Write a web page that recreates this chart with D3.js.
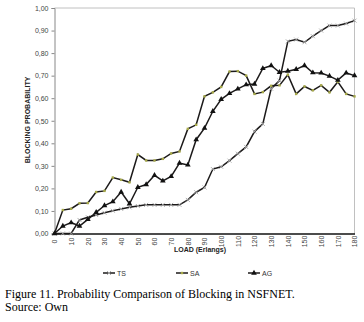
<!DOCTYPE html>
<html>
<head>
<meta charset="utf-8">
<script src="https://cdn.jsdelivr.net/npm/d3@7"></script>
<style>
  html, body { margin: 0; padding: 0; background: #fff; }
  svg { display: block; }
  .ax text { font-family: Arial, "Liberation Sans", sans-serif; font-size: 7px; fill: #444; }
</style>
</head>
<body>
<div id="chart"></div>
<script>
// load values on the category axis
var loads = [0, 5, 10, 15, 20, 25, 30, 35, 40, 45, 50, 55, 60, 65, 70, 75, 80, 85, 90, 95,
  100, 105, 110, 115, 120, 125, 130, 135, 140, 145, 150, 155, 160, 165, 170, 175, 180];
var loadLabels = [0, 10, 20, 30, 40, 50, 60, 70, 80, 90, 100, 110, 120, 130, 140, 150, 160, 170, 180];
var yTicks = [0, 0.1, 0.2, 0.3, 0.4, 0.5, 0.6, 0.7, 0.8, 0.9, 1.0];

var ts = [0, 0, 0, 0.06, 0.072, 0.082, 0.092, 0.101, 0.109, 0.116, 0.122, 0.127, 0.127, 0.127, 0.127,
  0.127, 0.149, 0.183, 0.204, 0.286, 0.296, 0.323, 0.354, 0.384, 0.452, 0.486, 0.642, 0.678, 0.852,
  0.86, 0.848, 0.875, 0.90, 0.922, 0.922, 0.931, 0.944];
var sa = [0, 0.104, 0.11, 0.134, 0.135, 0.184, 0.189, 0.248, 0.238, 0.227, 0.35, 0.324, 0.324, 0.331,
  0.355, 0.364, 0.464, 0.482, 0.608, 0.626, 0.65, 0.718, 0.72, 0.70, 0.619, 0.627, 0.655, 0.657, 0.704,
  0.619, 0.652, 0.635, 0.657, 0.626, 0.673, 0.619, 0.608];
var ag = [0, 0.033, 0.048, 0.033, 0.063, 0.094, 0.124, 0.141, 0.184, 0.132, 0.205, 0.217, 0.258, 0.233,
  0.253, 0.312, 0.304, 0.416, 0.467, 0.542, 0.595, 0.621, 0.641, 0.66, 0.663, 0.732, 0.745, 0.715, 0.72,
  0.728, 0.745, 0.713, 0.712, 0.698, 0.68, 0.712, 0.70];

var W = 364, H = 322;
var pLeft = 54.5, pRight = 354.5, pTop = 8, pBottom = 233.5;

var svg = d3.select('#chart').append('svg').attr('width', W).attr('height', H);

var x = d3.scalePoint().domain(loads).range([pLeft, pRight]).padding(0);
var y = d3.scaleLinear().domain([0, 1]).range([pBottom, pTop]);

// plot border (top + right)
svg.append('path')
  .attr('d', 'M' + pLeft + ',' + pTop + 'H' + pRight + 'V' + pBottom)
  .attr('fill', 'none').attr('stroke', '#c0c0c0').attr('stroke-width', 1);

// y axis
var yAxis = svg.append('g').attr('class', 'ax')
  .attr('transform', 'translate(' + pLeft + ',0)')
  .call(d3.axisLeft(y).tickValues(yTicks).tickSize(3).tickPadding(3)
    .tickFormat(function (d) { return d3.format('.2f')(d).replace('.', ','); }));
yAxis.select('.domain').attr('stroke', '#888');
yAxis.selectAll('line').attr('stroke', '#888');

// x axis
var xAxis = svg.append('g').attr('class', 'ax')
  .attr('transform', 'translate(0,' + pBottom + ')')
  .call(d3.axisBottom(x).tickValues(loadLabels).tickSize(0).tickPadding(0));
xAxis.select('.domain').attr('stroke', '#111').attr('stroke-width', 1.6);
xAxis.selectAll('text')
  .attr('transform', 'translate(0,8) rotate(-90)')
  .attr('dy', '0.35em').attr('y', 0).attr('x', 0)
  .attr('text-anchor', 'middle');

// axis titles
svg.append('text')
  .attr('transform', 'translate(30,120) rotate(-90)')
  .attr('text-anchor', 'middle')
  .style('font-family', 'Arial, "Liberation Sans", sans-serif')
  .style('font-size', '7px').style('font-weight', 'bold').attr('fill', '#222')
  .text('BLOCKING PROBABILITY');

svg.append('text')
  .attr('x', 200).attr('y', 252)
  .attr('text-anchor', 'middle')
  .style('font-family', 'Arial, "Liberation Sans", sans-serif')
  .style('font-size', '7px').style('font-weight', 'bold').attr('fill', '#222')
  .text('LOAD (Erlangs)');

var line = d3.line()
  .x(function (d, i) { return x(loads[i]); })
  .y(function (d) { return y(d); });

var series = [
  { name: 'TS', values: ts, marker: 'x' },
  { name: 'SA', values: sa, marker: 'dot' },
  { name: 'AG', values: ag, marker: 'tri' }
];

function drawMarker(g, type, cx, cy) {
  if (type === 'x') {
    g.append('path')
      .attr('d', 'M' + (cx - 2) + ',' + (cy - 2) + 'L' + (cx + 2) + ',' + (cy + 2) +
        'M' + (cx - 2) + ',' + (cy + 2) + 'L' + (cx + 2) + ',' + (cy - 2))
      .attr('stroke', '#a8a8a8').attr('stroke-width', 0.9);
  } else if (type === 'dot') {
    g.append('rect')
      .attr('x', cx - 1.2).attr('y', cy - 1.2).attr('width', 2.4).attr('height', 2.4)
      .attr('fill', '#a6a848');
  } else {
    g.append('path')
      .attr('d', d3.symbol().type(d3.symbolTriangle).size(14)())
      .attr('transform', 'translate(' + cx + ',' + cy + ')')
      .attr('fill', '#111');
  }
}

series.forEach(function (s) {
  svg.append('path')
    .datum(s.values)
    .attr('d', line)
    .attr('fill', 'none')
    .attr('stroke', '#1c1a1a')
    .attr('stroke-width', 1.5);
  var mg = svg.append('g');
  s.values.forEach(function (v, i) {
    drawMarker(mg, s.marker, x(loads[i]), y(v));
  });
});

// legend
var legX = [103, 176, 248];
series.forEach(function (s, i) {
  var g = svg.append('g');
  g.append('line')
    .attr('x1', legX[i]).attr('x2', legX[i] + 12)
    .attr('y1', 273).attr('y2', 273)
    .attr('stroke', '#1c1a1a').attr('stroke-width', 1.5);
  drawMarker(g, s.marker, legX[i] + 6, 273);
  g.append('text')
    .attr('x', legX[i] + 14).attr('y', 275.5)
    .style('font-family', 'Arial, "Liberation Sans", sans-serif')
    .style('font-size', '7px').attr('fill', '#333')
    .text(s.name);
});

// caption
svg.append('text')
  .attr('x', 5).attr('y', 298)
  .style('font-family', '"Liberation Serif", "Times New Roman", serif')
  .style('font-size', '12px').attr('fill', '#000')
  .text('Figure 11. Probability Comparison of Blocking in NSFNET.');
svg.append('text')
  .attr('x', 5).attr('y', 311)
  .style('font-family', '"Liberation Serif", "Times New Roman", serif')
  .style('font-size', '12px').attr('fill', '#000')
  .text('Source: Own');
</script>
</body>
</html>
